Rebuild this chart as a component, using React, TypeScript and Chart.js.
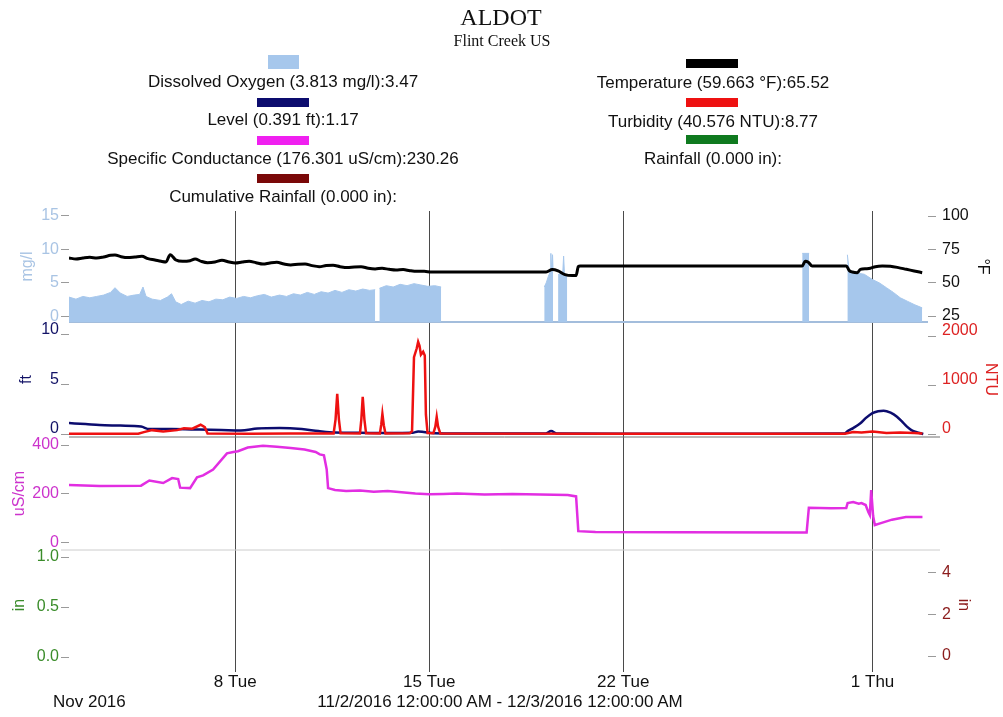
import React, { useEffect, useRef } from 'react';
import { Chart, registerables } from 'chart.js';

Chart.register(...registerables);

const FONT = "'Liberation Sans', Arial, sans-serif";
const SERIF = "'Liberation Serif', 'Times New Roman', serif";

// x axis: days since 11/2/2016 00:00
const xTickDays = [6, 13, 20, 29];
const xTickLabels = ['8 Tue', '15 Tue', '22 Tue', '1 Thu'];

// Dissolved Oxygen (mg/l) — null = no data
const doDays = [0,0.25,0.5,0.75,1.0,1.25,1.5,1.66,1.85,2.1,2.35,2.55,2.67,2.78,3.0,3.3,3.55,3.7,3.85,4.05,4.3,4.55,4.8,5.05,5.3,5.55,5.8,6.05,6.3,6.55,6.8,7.05,7.3,7.6,7.85,8.1,8.35,8.6,8.85,9.1,9.35,9.6,9.85,10.1,10.35,10.6,10.85,11.05,11.1,11.2,11.45,11.7,11.95,12.2,12.45,12.7,12.95,13.2,13.43,13.45,17.15,17.22,17.3,17.36,17.39,17.41,17.45,17.47,17.5,17.65,17.75,17.82,17.85,17.88,17.98,18.0,26.46,26.71,26.75,28.09,28.15,28.4,28.7,29.0,29.25,29.5,29.75,30.0,30.25,30.5,30.79];
const doValues = [2.9,2.6,3.0,2.8,3.0,3.2,3.6,4.3,3.5,3.0,3.2,3.3,4.4,3.0,2.6,2.4,2.9,3.4,2.2,1.8,2.3,2.0,2.4,2.2,2.6,2.5,2.9,2.7,3.0,2.8,3.1,3.3,2.9,3.2,3.0,3.4,3.2,3.6,3.3,3.7,3.5,3.9,3.6,4.0,3.8,4.1,3.9,4.0,null,4.2,4.6,4.4,4.8,4.6,4.9,4.7,4.5,4.6,4.4,null,4.4,5.0,6.0,6.6,9.4,6.7,9.2,6.8,null,6.2,6.5,6.6,9.0,6.4,6.0,null,9.4,9.4,null,9.2,6.9,6.5,6.3,5.5,5.0,4.3,3.6,2.8,2.3,1.8,1.3];

// Temperature (°F)
const tempDays = [0,0.25,0.5,0.75,1.0,1.25,1.5,1.66,1.88,2.13,2.38,2.63,2.85,3.1,3.32,3.5,3.65,3.86,4.1,4.37,4.55,4.77,5.0,5.27,5.52,5.78,6.0,6.25,6.5,6.75,7.0,7.25,7.5,7.76,8.0,8.27,8.52,8.77,9.03,9.28,9.53,9.78,10.04,10.3,10.54,10.8,11.05,11.3,11.55,11.8,12.06,12.3,12.56,12.82,13.07,15.0,17.22,17.44,17.65,17.9,18.16,18.3,18.38,18.45,22.0,26.46,26.57,26.68,26.82,28.05,28.16,28.27,28.45,28.56,28.77,28.92,29.1,29.35,29.64,29.93,30.22,30.5,30.79];
const tempValues = [68.5,67.8,68.5,69.0,68.5,69.3,70.5,70.8,69.5,68.8,69.3,69.8,68.0,67.0,66.0,65.5,71.0,67.0,66.0,66.5,67.8,66.0,65.0,65.5,66.8,65.5,64.8,65.5,66.0,65.0,64.0,64.8,65.3,64.0,63.3,63.8,64.0,62.8,62.0,62.8,63.0,62.0,61.3,61.8,62.0,60.8,60.3,60.8,60.0,59.5,59.8,59.0,58.5,58.5,58.0,58.0,58.0,59.8,58.8,56.0,55.3,55.3,62.0,62.5,62.5,62.5,66.0,65.3,62.5,62.5,59.0,58.0,57.5,60.0,60.5,60.8,62.0,62.5,62.3,61.3,60.0,58.8,57.5];

// Level (ft)
const levelDays = [0,0.6,1.1,1.85,2.6,2.9,3.7,4.7,5.5,6.2,6.8,7.6,8.4,9.0,9.6,10.5,11.5,12.4,12.6,12.8,13.2,15.0,17.2,17.4,17.6,20.0,25.0,28.0,28.07,28.3,28.56,28.75,28.98,29.2,29.4,29.65,29.88,30.05,30.24,30.4,30.54,30.83];
const levelValues = [1.1,1.0,0.9,0.85,0.75,0.5,0.5,0.45,0.4,0.35,0.55,0.6,0.5,0.3,0.15,0.12,0.1,0.12,0.25,0.2,0.08,0.05,0.05,0.3,0.05,0.03,0.03,0.05,0.23,0.6,1.08,1.6,2.09,2.3,2.35,2.15,1.75,1.3,0.74,0.4,0.23,0.0];

// Turbidity (NTU)
const turbDays = [0,2.5,2.7,3.0,3.4,3.9,4.15,4.45,4.75,4.9,5.0,6.5,8.0,9.55,9.62,9.68,9.74,9.8,10.5,10.55,10.6,10.66,10.72,11.22,11.27,11.31,11.36,11.42,12.3,12.38,12.45,12.55,12.6,12.65,12.7,12.78,12.84,12.88,12.94,13.15,13.22,13.27,13.32,13.4,20.0,28.0,28.3,28.6,29.0,29.5,30.0,30.5,30.8];
const turbValues = [5,5,40,80,50,80,120,110,190,140,10,8,10,12,300,820,300,15,12,300,760,300,15,12,200,410,180,12,15,60,1570,1750,1880,1800,1620,1680,1600,400,20,15,150,350,150,10,5,5,40,30,50,20,30,20,10];

// Specific Conductance (uS/cm)
const scDays = [0,1.1,2.6,2.9,3.4,3.72,3.94,4.01,4.37,4.62,4.84,5.2,5.7,5.93,6.1,6.45,7.0,7.5,8.0,8.5,8.9,9.05,9.2,9.3,9.35,9.6,10.0,10.5,11.0,11.5,12.0,12.5,13.0,13.5,14.0,15.0,16.0,17.0,18.0,18.3,18.38,19.0,22.0,26.5,26.62,26.7,27.5,28.05,28.1,28.3,28.5,28.6,28.75,28.85,28.9,28.95,29.02,29.08,29.3,29.7,30.2,30.8];
const scValues = [237,233,234,255,245,265,261,226,224,268,276,300,366,372,375,390,397,393,388,382,372,362,358,300,224,216,212,214,209,212,207,202,199,200,202,198,200,198,196,190,48,45,44,43,43,144,142,143,163,167,160,163,155,125,114,216,110,73,81,95,106,106];

// axis tick values
const doTicks = [0, 5, 10, 15];
const tempTicks = [25, 50, 75, 100];
const ftTicks = [0, 5, 10];
const ntuTicks = [0, 1000, 2000];
const scTicks = [0, 200, 400];
const inTicks = [0, 0.5, 1.0];
const inRTicks = [0, 2, 4];

const legendLeft = [
  { label: 'Dissolved Oxygen (3.813 mg/l):3.47', color: '#a6c7ec' },
  { label: 'Level (0.391 ft):1.17', color: '#0c0c6e' },
  { label: 'Specific Conductance (176.301 uS/cm):230.26', color: '#f020f0' },
  { label: 'Cumulative Rainfall (0.000 in):', color: '#7a0808' },
];
const legendRight = [
  { label: 'Temperature (59.663 °F):65.52', color: '#000000' },
  { label: 'Turbidity (40.576 NTU):8.77', color: '#ee1111' },
  { label: 'Rainfall (0.000 in):', color: '#0f7a1f' },
];

const pts = (days: number[], vals: (number | null)[]) => days.map((d, i) => ({ x: d, y: vals[i] }));

const setTicks = (vals: number[]) => (scale: any) => {
  scale.ticks = vals.map((v) => ({ value: v }));
};

function yScale(o: any) {
  return {
    type: 'linear',
    position: o.pos,
    stack: o.stack,
    stackWeight: o.sw,
    weight: o.weight,
    min: o.min,
    max: o.max,
    afterBuildTicks: o.ticks ? setTicks(o.ticks) : undefined,
    afterFit: (s: any) => { s.width = o.width; },
    border: { display: false },
    grid: {
      display: !o.blank,
      drawOnChartArea: false,
      drawTicks: true,
      tickLength: 8,
      tickColor: '#9a9a9a',
      tickWidth: 1,
    },
    ticks: {
      display: !o.blank,
      autoSkip: false,
      color: o.color,
      font: { family: FONT, size: 16 },
      padding: o.pos === 'left' ? 2 : 6,
      labelOffset: o.labelOffset || 0,
      callback: (v: number) => (o.fmt ? o.fmt(v) : String(v)),
    },
    title: {
      display: !o.blank,
      text: o.title || '',
      color: o.color,
      font: { family: FONT, size: 16 },
      padding: { top: o.titlePad || 0, bottom: 0 },
    },
  };
}

const separators = {
  id: 'separators',
  beforeDatasetsDraw(chart: any) {
    const { ctx, chartArea, scales } = chart;
    const lines = [
      { y: scales.yDO.bottom, color: '#a3bddc', w: 2, x0: chartArea.left, x1: chartArea.right },
      { y: scales.yFt.bottom, color: '#707070', w: 1, x0: chartArea.left, x1: chartArea.right + 12 },
      { y: scales.yUS.bottom, color: '#cccccc', w: 1, x0: chartArea.left - 8, x1: chartArea.right + 12 },
    ];
    ctx.save();
    for (const l of lines) {
      ctx.strokeStyle = l.color;
      ctx.lineWidth = l.w;
      ctx.beginPath();
      ctx.moveTo(l.x0, l.y);
      ctx.lineTo(l.x1, l.y);
      ctx.stroke();
    }
    ctx.restore();
  },
};

function Txt(props: any) {
  const { x, y, size, family, color, children, align } = props;
  const center = align !== 'left';
  return (
    <div
      style={{
        position: 'absolute',
        left: center ? x - 400 : x,
        width: center ? 800 : undefined,
        top: y,
        fontSize: size,
        lineHeight: `${size}px`,
        fontFamily: family || FONT,
        color: color || '#111',
        textAlign: center ? 'center' : 'left',
        whiteSpace: 'nowrap',
      }}
    >
      {children}
    </div>
  );
}

function Swatch(props: any) {
  const { x, y, w, h, color } = props;
  return <div style={{ position: 'absolute', left: x, top: y, width: w, height: h, background: color }} />;
}

export default function App() {
  const ref = useRef<HTMLCanvasElement | null>(null);

  useEffect(() => {
    if (!ref.current) return;
    const chart = new Chart(ref.current, {
      type: 'line',
      data: {
        datasets: [
          {
            label: 'Temperature',
            data: pts(tempDays, tempValues),
            xAxisID: 'x',
            yAxisID: 'yT',
            borderColor: '#000000',
            borderWidth: 3,
            pointRadius: 0,
            fill: false,
            cubicInterpolationMode: 'monotone',
          },
          {
            label: 'Dissolved Oxygen',
            data: pts(doDays, doValues),
            xAxisID: 'x',
            yAxisID: 'yDO',
            borderColor: '#a6c7ec',
            backgroundColor: '#a6c7ec',
            borderWidth: 1,
            pointRadius: 0,
            fill: 'start',
            spanGaps: false,
          },
          {
            label: 'Turbidity',
            data: pts(turbDays, turbValues),
            xAxisID: 'x',
            yAxisID: 'yNTU',
            borderColor: '#ee1111',
            borderWidth: 2.5,
            pointRadius: 0,
            fill: false,
          },
          {
            label: 'Level',
            data: pts(levelDays, levelValues),
            xAxisID: 'x',
            yAxisID: 'yFt',
            borderColor: '#0c0c6e',
            borderWidth: 2.5,
            pointRadius: 0,
            fill: false,
            cubicInterpolationMode: 'monotone',
          },
          {
            label: 'Specific Conductance',
            data: pts(scDays, scValues),
            xAxisID: 'x',
            yAxisID: 'yUS',
            borderColor: '#e22ee2',
            borderWidth: 2.5,
            pointRadius: 0,
            fill: false,
          },
        ],
      },
      options: {
        responsive: false,
        maintainAspectRatio: false,
        devicePixelRatio: 1,
        animation: false,
        events: [],
        layout: { padding: { top: 211, left: 0, right: 0, bottom: 0 } },
        plugins: {
          legend: { display: false },
          tooltip: { enabled: false },
          title: { display: false },
        },
        scales: {
          x: {
            type: 'linear',
            position: 'bottom',
            min: 0,
            max: 31,
            z: 1,
            afterBuildTicks: setTicks(xTickDays),
            afterFit: (s: any) => { s.height = 57; },
            border: { display: false },
            grid: { color: '#4a4a4a', lineWidth: 1, drawTicks: true, tickLength: 12, tickColor: '#4a4a4a' },
            ticks: {
              color: '#111',
              font: { family: FONT, size: 17 },
              padding: 0,
              maxRotation: 0,
              autoSkip: false,
              callback: (v: number) => {
                const i = xTickDays.findIndex((d) => Math.abs(d - v) < 1e-6);
                return i >= 0 ? xTickLabels[i] : '';
              },
            },
          },
          yIn: yScale({ pos: 'left', stack: 'L', sw: 110, weight: 1, min: -0.03, max: 1.07, ticks: inTicks, color: '#3a8c2a', title: 'in', titlePad: 10, width: 69, fmt: (v: number) => v.toFixed(1) }),
          yUS: yScale({ pos: 'left', stack: 'L', sw: 113, weight: 2, min: -29, max: 433, ticks: scTicks, color: '#cc33cc', title: 'uS/cm', titlePad: 10, width: 69 }),
          yFt: yScale({ pos: 'left', stack: 'L', sw: 115, weight: 3, min: -0.3, max: 11.3, ticks: ftTicks, color: '#121266', title: 'ft', titlePad: 17, width: 69, labelOffset: -5 }),
          yDO: yScale({ pos: 'left', stack: 'L', sw: 111, weight: 4, min: -0.8, max: 15.7, ticks: doTicks, color: '#a9c4e4', title: 'mg/l', titlePad: 18, width: 69 }),
          yT: yScale({ pos: 'right', stack: 'R', sw: 111, weight: 1, min: 20.5, max: 103.75, ticks: tempTicks, color: '#111111', title: '°F', titlePad: 11, width: 75 }),
          yNTU: yScale({ pos: 'right', stack: 'R', sw: 115, weight: 2, min: -60, max: 2286, ticks: ntuTicks, color: '#dd2222', title: 'NTU', titlePad: 3, width: 75, labelOffset: -5 }),
          yBlank: yScale({ pos: 'right', stack: 'R', sw: 113, weight: 3, min: 0, max: 1, blank: true, color: '#000', width: 75 }),
          yInR: yScale({ pos: 'right', stack: 'R', sw: 110, weight: 4, min: -0.19, max: 5.1, ticks: inRTicks, color: '#8b1c1c', title: 'in', titlePad: 30, width: 75 }),
        },
      } as any,
      plugins: [separators],
    });
    return () => chart.destroy();
  }, []);

  return (
    <div style={{ position: 'absolute', left: 0, top: 0, width: 1003, height: 717, background: '#ffffff', overflow: 'hidden' }}>
      <canvas ref={ref} width={1003} height={717} style={{ position: 'absolute', left: 0, top: 0, width: 1003, height: 717 }} />
      <Txt x={501} y={4.5} size={24} family={SERIF}>ALDOT</Txt>
      <Txt x={502} y={33} size={16} family={SERIF}>Flint Creek US</Txt>

      <Swatch x={268} y={55} w={31} h={14} color={legendLeft[0].color} />
      <Txt x={283} y={72.8} size={17}>{legendLeft[0].label}</Txt>
      <Swatch x={257} y={98} w={52} h={9} color={legendLeft[1].color} />
      <Txt x={283} y={111.1} size={17}>{legendLeft[1].label}</Txt>
      <Swatch x={257} y={136} w={52} h={9} color={legendLeft[2].color} />
      <Txt x={283} y={149.5} size={17}>{legendLeft[2].label}</Txt>
      <Swatch x={257} y={174} w={52} h={9} color={legendLeft[3].color} />
      <Txt x={283} y={187.8} size={17}>{legendLeft[3].label}</Txt>

      <Swatch x={686} y={59} w={52} h={9} color={legendRight[0].color} />
      <Txt x={713} y={73.8} size={17}>{legendRight[0].label}</Txt>
      <Swatch x={686} y={98} w={52} h={9} color={legendRight[1].color} />
      <Txt x={713} y={112.8} size={17}>{legendRight[1].label}</Txt>
      <Swatch x={686} y={135} w={52} h={9} color={legendRight[2].color} />
      <Txt x={713} y={149.5} size={17}>{legendRight[2].label}</Txt>

      <Txt x={53} y={693} size={17} align="left">Nov 2016</Txt>
      <Txt x={500} y={693} size={17}>11/2/2016 12:00:00 AM - 12/3/2016 12:00:00 AM</Txt>
    </div>
  );
}
